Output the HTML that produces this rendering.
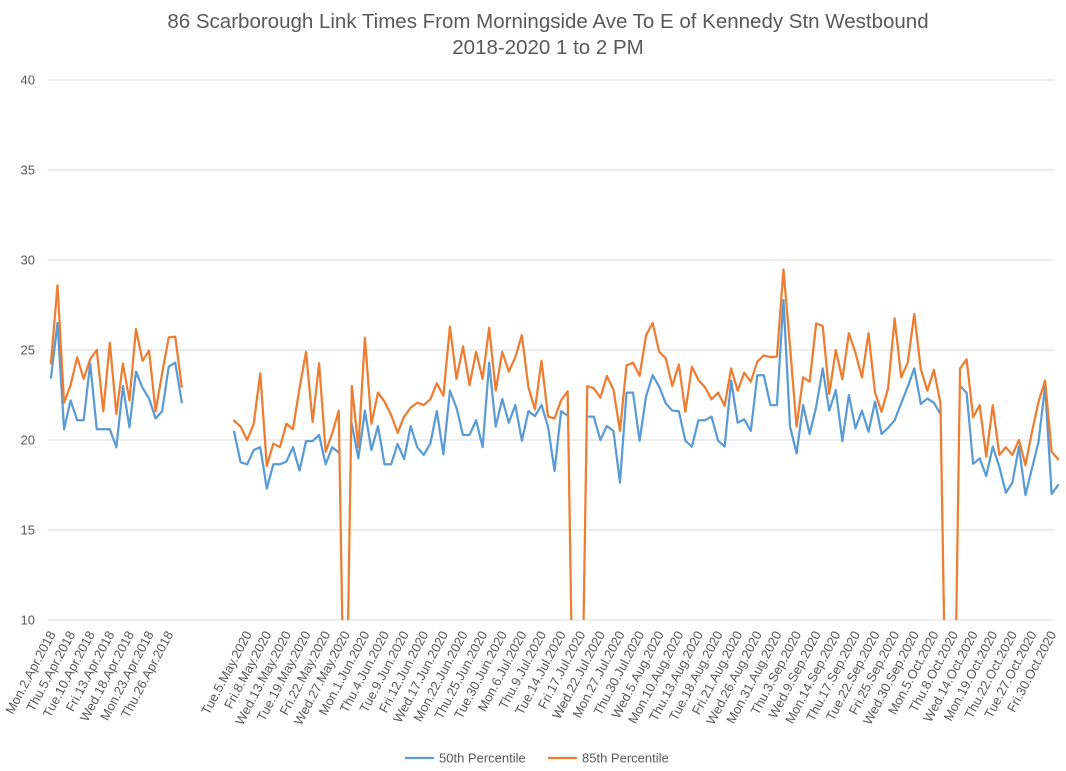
<!DOCTYPE html>
<html><head><meta charset="utf-8">
<style>
html,body{margin:0;padding:0;background:#fff;}
svg{display:block;font-family:"Liberation Sans",Arial,sans-serif;}
</style></head>
<body>
<svg id="chart" width="1066" height="771" viewBox="0 0 1066 771" xmlns="http://www.w3.org/2000/svg">
<rect width="1066" height="771" fill="#fff"/>
<text x="548" y="28" text-anchor="middle" font-size="20.5" fill="#595959">86 Scarborough Link Times From Morningside Ave To E of Kennedy Stn Westbound</text>
<text x="548" y="54" text-anchor="middle" font-size="20.5" fill="#595959">2018-2020 1 to 2 PM</text>
<defs><clipPath id="plotclip"><rect x="40" y="70" width="1026" height="550"/></clipPath></defs>
<g id="grid"></g>
<g id="yticks"></g>
<g id="xticks"></g>
<g id="series" clip-path="url(#plotclip)"></g>
<g>
  <line x1="405" y1="758" x2="434" y2="758" stroke="#5B9BD5" stroke-width="2.25"/>
  <text x="439" y="762.5" font-size="13" fill="#595959">50th Percentile</text>
  <line x1="548" y1="758" x2="577" y2="758" stroke="#ED7D31" stroke-width="2.25"/>
  <text x="582" y="762.5" font-size="13" fill="#595959">85th Percentile</text>
</g>
</svg>
<script>
const yTicks = [10, 15, 20, 25, 30, 35, 40];
const aprDays2018 = ["Mon.2","Tue.3","Wed.4","Thu.5","Fri.6","Mon.9","Tue.10","Wed.11","Thu.12","Fri.13","Mon.16","Tue.17","Wed.18","Thu.19","Fri.20","Mon.23","Tue.24","Wed.25","Thu.26","Fri.27","Mon.30"];
const blankCount = 7;
const holidays2020 = ["2020-05-18","2020-07-01","2020-08-03","2020-09-07","2020-10-12"];
const p50 = [23.46,26.5,20.6,22.2,21.1,21.1,24.26,20.6,20.6,20.6,19.6,23.0,20.7,23.8,22.9,22.3,21.2,21.6,24.07,24.3,22.1,
null,null,null,null,null,null,null,
20.46,18.76,18.65,19.44,19.6,17.3,18.65,18.65,18.8,19.6,18.3,19.94,19.94,20.28,18.65,19.6,19.3,null,20.9,18.98,21.63,19.44,
20.78,18.65,18.65,19.78,18.94,20.78,19.6,19.17,19.8,21.6,19.2,22.74,21.8,20.28,20.28,21.1,19.6,24.3,20.74,22.28,20.96,
21.94,19.96,21.6,21.33,21.94,20.74,18.28,21.6,21.35,null,null,21.3,21.3,20.0,20.78,20.5,17.63,22.63,22.63,19.96,22.44,
23.6,22.96,22.04,21.63,21.6,19.96,19.63,21.1,21.1,21.3,19.96,19.63,23.3,20.96,21.15,20.5,23.6,23.6,21.94,21.94,
27.78,20.74,19.26,21.94,20.33,21.85,23.98,21.63,22.78,19.94,22.5,20.65,21.63,20.46,22.13,20.33,20.68,21.1,22.04,22.96,
23.98,22.0,22.3,22.07,21.44,null,null,23.0,22.63,18.67,18.98,18.0,19.63,18.52,17.07,17.63,19.63,16.94,18.43,19.9,23.0,17.0,17.5];
const p85 = [24.26,28.6,22.07,23.05,24.6,23.4,24.5,25.0,21.6,25.4,21.45,24.26,22.2,26.17,24.4,24.96,21.6,23.7,25.7,25.74,22.96,
null,null,null,null,null,null,null,
21.07,20.74,20.0,20.9,23.7,18.55,19.8,19.6,20.9,20.6,22.87,24.9,21.0,24.26,19.35,20.37,21.63,0,23.0,19.6,25.68,20.9,
22.63,22.13,21.4,20.4,21.3,21.8,22.07,21.94,22.26,23.15,22.46,26.3,23.4,25.2,23.05,24.9,23.4,26.24,22.74,24.9,23.8,
24.6,25.83,22.93,21.7,24.4,21.3,21.2,22.2,22.7,0,0,23.0,22.87,22.35,23.56,22.8,20.5,24.13,24.3,23.57,25.83,
26.5,24.9,24.54,23.0,24.2,21.57,24.07,23.33,22.93,22.26,22.63,21.9,23.98,22.74,23.74,23.24,24.35,24.7,24.6,24.63,
29.48,25.2,20.74,23.48,23.24,26.48,26.33,22.56,25.0,23.37,25.93,24.85,23.48,25.93,22.63,21.57,22.87,26.76,23.48,24.3,
27.0,23.93,22.74,23.9,22.04,0,0,23.98,24.48,21.26,21.94,19.07,21.94,19.17,19.6,19.17,20.0,18.6,20.46,22.13,23.3,19.35,18.93];

const categories = [];
aprDays2018.forEach(d => { const p = d.split("."); categories.push(p[0]+"."+p[1]+".Apr.2018"); });
for (let k=0;k<blankCount;k++) categories.push("");
(function(){
  const mon=["Jan","Feb","Mar","Apr","May","Jun","Jul","Aug","Sep","Oct","Nov","Dec"];
  const wd=["Sun","Mon","Tue","Wed","Thu","Fri","Sat"];
  const d=new Date(Date.UTC(2020,4,1));
  const end=new Date(Date.UTC(2020,9,30));
  while(d<=end){
    const w=d.getUTCDay();
    const iso=d.toISOString().slice(0,10);
    if(w>0&&w<6&&holidays2020.indexOf(iso)<0){
      categories.push(wd[w]+"."+d.getUTCDate()+"."+mon[d.getUTCMonth()]+".2020");
    }
    d.setUTCDate(d.getUTCDate()+1);
  }
})();

const NS="http://www.w3.org/2000/svg";
const plotL=47.7, plotR=1054.9, plotT=80, plotB=620, yMin=10, yMax=40;
const n = categories.length;
const bw=(plotR-plotL)/n;
function xPos(i){ return plotL+(i+0.5)*bw; }
function yPos(v){ return plotB-(v-yMin)/(yMax-yMin)*(plotB-plotT); }
function mk(tag,attrs,parent){ const e=document.createElementNS(NS,tag); for(const k in attrs) e.setAttribute(k,attrs[k]); parent.appendChild(e); return e; }

const grid=document.getElementById("grid");
const yt=document.getElementById("yticks");
yTicks.forEach(v=>{
  const l=mk("line",{x1:plotL,x2:plotR,y1:yPos(v),y2:yPos(v),stroke:"#d9d9d9","stroke-width":1},grid);
  
  
  const t=mk("text",{x:35,y:yPos(v)+4.5,"text-anchor":"end","font-size":13,fill:"#595959"},yt);
  t.textContent=v;
  
  
});

const xt=document.getElementById("xticks");
for(let i=0;i<n;i+=3){
  if(!categories[i]) continue;
  const x=xPos(i)+5, y=634;
  const t=mk("text",{x:x,y:y,"text-anchor":"end","font-size":13,fill:"#595959",transform:"rotate(-62 "+x+" "+y+")"},xt);
  t.textContent=categories[i];
  
  
}

const sg=document.getElementById("series");
function drawSeries(vals,color,name){
  let d="", pen=false;
  vals.forEach((v,i)=>{
    if(v===null){pen=false;return;}
    d+=(pen?"L":"M")+xPos(i).toFixed(2)+" "+yPos(v).toFixed(2)+" ";
    pen=true;
  });
  const p=mk("path",{d:d,fill:"none",stroke:color,"stroke-width":2.25,"stroke-linejoin":"round","stroke-linecap":"round"},sg);
  
  
}
drawSeries(p50,"#5B9BD5","series-50th-percentile");
drawSeries(p85,"#ED7D31","series-85th-percentile");
</script>
</body></html>
